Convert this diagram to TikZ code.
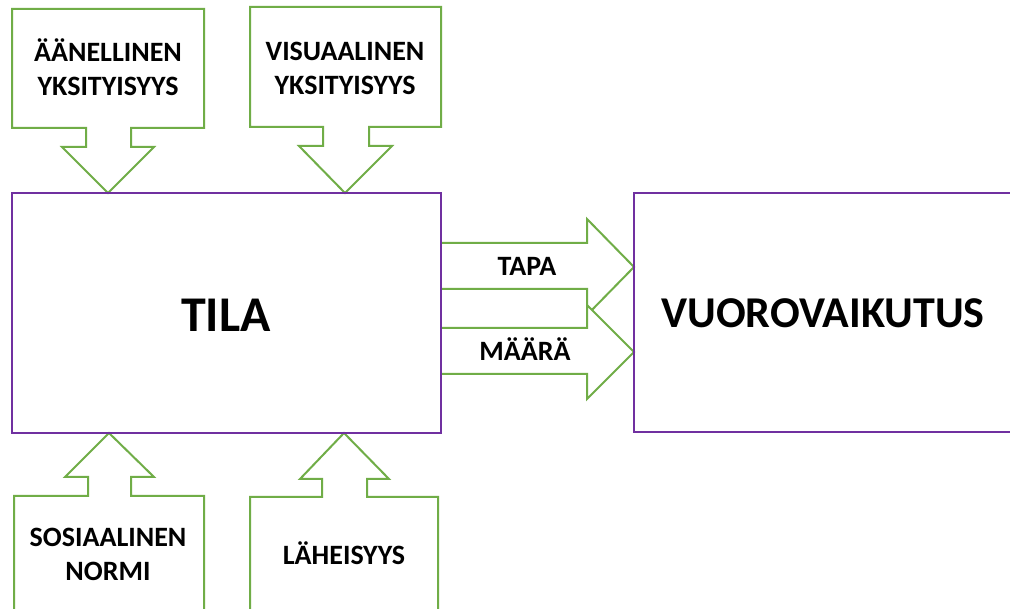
\documentclass[tikz,border=0pt]{standalone}
\usepackage{fontspec}
\setmainfont{Carlito}
\definecolor{grn}{HTML}{70AD47}
\definecolor{prp}{HTML}{7030A0}
\begin{document}
\begin{tikzpicture}[x=1pt,y=-1pt,
  gshape/.style={draw=grn,line width=2pt,fill=white,line join=miter},
  pbox/.style={draw=prp,line width=2pt},
  lbl/.style={font=\bfseries\fontsize{28}{34}\selectfont,align=center,inner sep=0pt},
  big/.style={font=\bfseries\fontsize{#1}{#1}\selectfont,inner sep=0pt}]
\useasboundingbox (0,0) rectangle (1010,609);
\clip (0,0) rectangle (1010,609);
\fill[white] (0,0) rectangle (1010,609);
% callouts
\draw[gshape] (12,9) -- (204,9) -- (204,128) -- (131,128) -- (131,147) -- (154,147) -- (108,193) -- (62,147) -- (86,147) -- (86,128) -- (12,128) -- cycle;
\draw[gshape] (250,7) -- (441,7) -- (441,127) -- (369,127) -- (369,146) -- (392,146) -- (345,193) -- (299,146) -- (323,146) -- (323,127) -- (250,127) -- cycle;
\draw[gshape] (109,433) -- (154,477) -- (131,477) -- (131,496) -- (204,496) -- (204,620) -- (14,620) -- (14,496) -- (88,496) -- (88,477) -- (65,477) -- cycle;
\draw[gshape] (344,433) -- (389,479) -- (367,479) -- (367,497) -- (438,497) -- (438,620) -- (250,620) -- (250,497) -- (322,497) -- (322,479) -- (300,479) -- cycle;
% right arrows
\draw[gshape] (441,243) -- (587,243) -- (587,219) -- (634,267) -- (587,315) -- (587,289) -- (441,289);
\draw[gshape] (441,328) -- (587,328) -- (587,305) -- (634,352) -- (587,399) -- (587,374) -- (441,374);
% boxes
\draw[pbox] (12,193) rectangle (441,433);
\draw[pbox] (634,193) rectangle (1020,432);
% texts
\node[big=50,anchor=base] (tila) at (226,332) {TILA};
\node[big=44,anchor=base] (vuoro) at (823,328) {VUOROVAIKUTUS};
\node[lbl] (aan) at (108,67) {ÄÄNELLINEN\\YKSITYISYYS};
\node[lbl] (vis) at (345,68) {VISUAALINEN\\YKSITYISYYS};
\node[lbl] (sos) at (108,554) {SOSIAALINEN\\NORMI};
\node[big=28,anchor=base] (lah) at (344,564) {LÄHEISYYS};
\node[big=28,anchor=base] (tapa) at (527,276) {TAPA};
\node[big=28,anchor=base] (maara) at (525,361) {MÄÄRÄ};
\end{tikzpicture}
\end{document}
